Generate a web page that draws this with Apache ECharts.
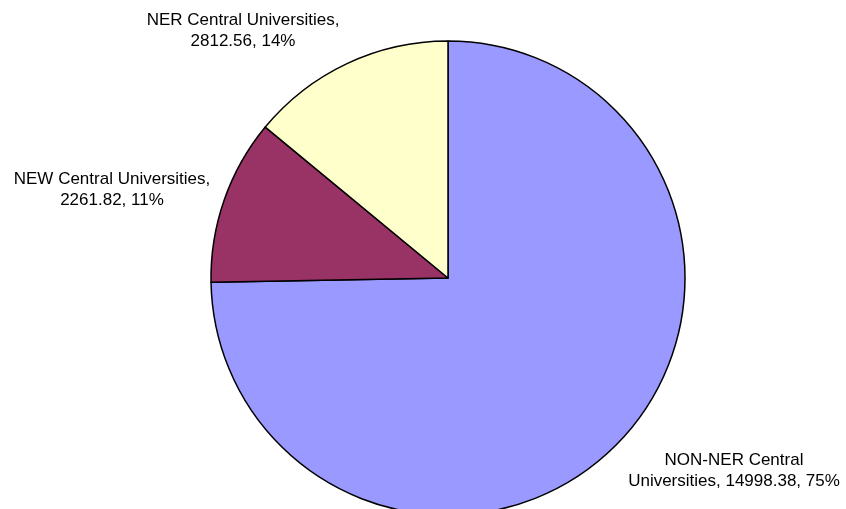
<!DOCTYPE html>
<html>
<head>
<meta charset="utf-8">
<script src="https://cdn.jsdelivr.net/npm/echarts@6/dist/echarts.min.js"></script>
<style>html,body{margin:0;padding:0;background:#fff;}#c{width:846px;height:509px;}</style>
</head>
<body>
<div id="c"></div>
<script>
const categories = ['NON-NER Central Universities', 'NEW Central Universities', 'NER Central Universities'];
const values = [14998.38, 2261.82, 2812.56];
const percents = [75, 11, 14];
const labelTexts = ['NON-NER Central\nUniversities, 14998.38, 75%', 'NEW Central Universities,\n2261.82, 11%', 'NER Central Universities,\n2812.56, 14%'];
const colors = ['#9999FF', '#993366', '#FFFFCC'];
const labelPos = [[734, 471], [112, 190], [243, 31]];

const chart = echarts.init(document.getElementById('c'), null, {renderer: 'canvas'});
chart.setOption({
  animation: false,
  backgroundColor: '#ffffff',
  series: [{
    type: 'pie',
    center: [448, 278],
    radius: [0, 237],
    startAngle: 90,
    clockwise: true,
    avoidLabelOverlap: false,
    itemStyle: {borderColor: '#000000', borderWidth: 1.5},
    label: {
      show: true,
      position: 'outside',
      fontFamily: 'Liberation Sans, Arial, sans-serif',
      fontSize: 17,
      lineHeight: 21,
      color: '#000000',
      align: 'center',
      formatter: p => labelTexts[p.dataIndex]
    },
    labelLine: {show: false},
    labelLayout: p => ({x: labelPos[p.dataIndex][0], y: labelPos[p.dataIndex][1], align: 'center', verticalAlign: 'middle'}),
    emphasis: {disabled: true},
    data: categories.map((n, i) => ({name: n, value: values[i], itemStyle: {color: colors[i]}}))
  }]
});
</script>
</body>
</html>
